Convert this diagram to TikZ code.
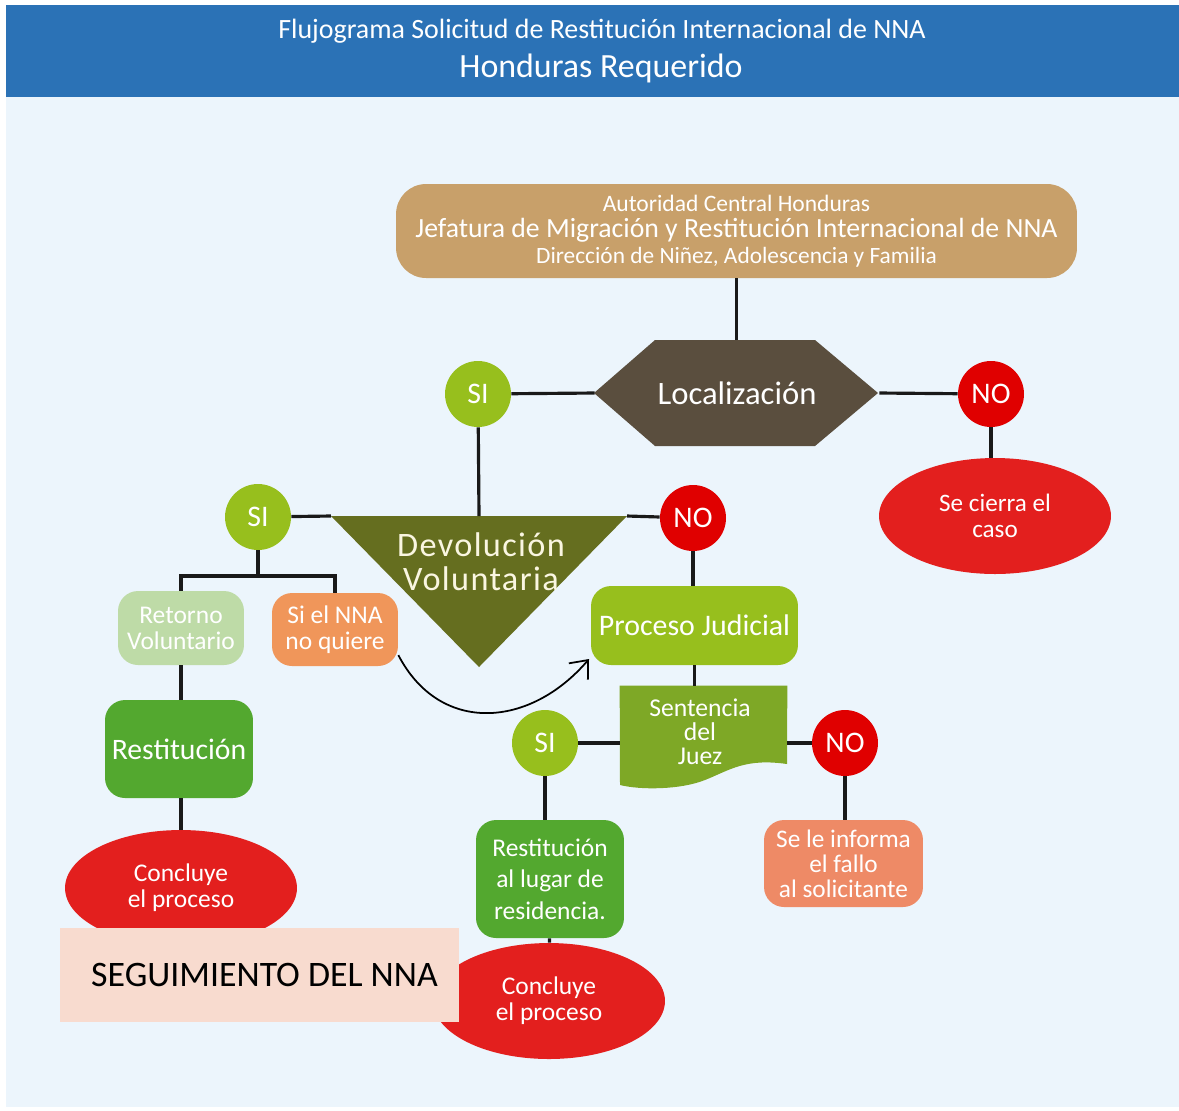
\documentclass[tikz,border=0pt]{standalone}
\usepackage{fontspec}
\setmainfont{Carlito}
\usetikzlibrary{shapes.geometric,arrows.meta,positioning}

\definecolor{azulTit}{RGB}{43,114,182}
\definecolor{fondo}{RGB}{236,245,252}
\definecolor{tan}{RGB}{200,160,106}
\definecolor{cafe}{RGB}{90,78,62}
\definecolor{verdeSi}{RGB}{151,191,29}
\definecolor{rojoNo}{RGB}{224,0,0}
\definecolor{rojoFin}{RGB}{227,31,30}
\definecolor{olivo}{RGB}{101,110,31}
\definecolor{verdeClaro}{RGB}{190,219,167}
\definecolor{naranja}{RGB}{240,150,90}
\definecolor{verdeCaja}{RGB}{83,168,47}
\definecolor{verdeDoc}{RGB}{126,168,38}
\definecolor{salmon}{RGB}{238,138,102}
\definecolor{rosa}{RGB}{248,219,207}
\definecolor{crema}{RGB}{250,246,225}

\begin{document}
\begin{tikzpicture}[x=0.02cm,y=-0.02cm,
  linea/.style={line width=1.8pt,draw=black!90},
  caja/.style={rounded corners=0.4cm,text=white,align=center,inner sep=0pt},
  si/.style={circle,fill=verdeSi,text=white,minimum size=1.32cm,inner sep=0pt,font=\fontsize{17}{17}\selectfont},
  no/.style={si,fill=rojoNo},
  fin/.style={ellipse,fill=rojoFin,text=white,align=center,minimum width=4.64cm,minimum height=2.32cm,inner sep=0pt,font=\fontsize{14.5}{14.8}\selectfont}]

\useasboundingbox (0,0) rectangle (1179,1110);
\fill[white] (0,0) rectangle (1179,1110);
\fill[fondo] (6,97) rectangle (1179,1107);
\fill[azulTit] (6,5) rectangle (1179,97);
\node[text=white,font=\fontsize{15.9}{16}\selectfont] (tit1) at (602,31) {Flujograma Solicitud de Restitución Internacional de NNA};
\node[text=white,font=\fontsize{19.3}{19}\selectfont] (tit2) at (601,68) {Honduras Requerido};

% autoridad central
\node[caja,fill=tan,rounded corners=0.6cm,minimum width=13.62cm,minimum height=1.88cm,font=\fontsize{13}{13.6}\selectfont] (ac) at (736.5,231)
  {{\fontsize{13.4}{13.6}\selectfont Autoridad Central Honduras}\\[1.2pt]
   {\fontsize{15.8}{13.6}\selectfont Jefatura de Migración y Restitución Internacional de NNA}\\[1.2pt]
   {\fontsize{13.3}{13.6}\selectfont Dirección de Niñez, Adolescencia y Familia}};

% localizacion
\fill[cafe] (594,393) -- (655,340) -- (815,340) -- (878,393) -- (815,446) -- (655,446) -- cycle;
\node[minimum width=5.68cm,minimum height=2.12cm,inner sep=0pt,text=white,font=\fontsize{18.6}{18}\selectfont] (loc) at (737,393) {Localización};
\node[si] (siA) at (478,394) {SI};
\node[no] (noA) at (991,394) {NO};
\node[fin,font=\fontsize{14.3}{14.8}\selectfont] (cierra) at (995,516) {Se cierra el\\caso};

% devolucion voluntaria
\fill[olivo] (331,516) -- (627,516) -- (479,667) -- cycle;
\coordinate (dvI) at (331,516);
\coordinate (dvD) at (627,516);
\coordinate (dvS) at (479,516);
\node[text=crema,align=center,font=\fontsize{19.5}{19.5}\selectfont\addfontfeatures{LetterSpace=4}] (dev) at (481,562) {Devolución\\Voluntaria};
\node[si] (siB) at (258,517) {SI};
\node[no] (noB) at (693,518) {NO};

% rama voluntaria
\coordinate (bif) at (258,576);
\node[caja,fill=verdeClaro,minimum width=2.52cm,minimum height=1.48cm,font=\fontsize{14.5}{14.8}\selectfont] (ret) at (181,628) {Retorno\\Voluntario};
\node[caja,fill=naranja,minimum width=2.52cm,minimum height=1.46cm,font=\fontsize{14.5}{14.8}\selectfont] (noq) at (335,629.5) {Si el NNA\\no quiere};
\node[caja,fill=verdeCaja,minimum width=2.96cm,minimum height=1.96cm,font=\fontsize{16.9}{17}\selectfont] (rest) at (179,749) {Restitución};
\node[fin] (finA) at (181,888) {Concluye\\el proceso};

% rama judicial
\node[caja,fill=verdeSi,minimum width=4.14cm,minimum height=1.58cm,font=\fontsize{17}{17}\selectfont] (pj) at (694.5,625.5) {Proceso Judicial};
\node[minimum width=3.34cm,minimum height=1.84cm,inner sep=0pt] (sen) at (703.5,732) {};
\fill[verdeDoc] (sen.north west) -- (sen.north east) -- (787,764) .. controls (745,758) and (730,770) .. (705,780)
  .. controls (680,790) and (640,790) .. (620,785) -- cycle;
\node[text=white,align=center,font=\fontsize{14.6}{13.6}\selectfont] (sentxt) at (700,732) {Sentencia\\del\\Juez};
\node[si] (siC) at (545,743) {SI};
\node[no] (noD) at (845,743) {NO};
\node[caja,fill=verdeCaja,minimum width=2.96cm,minimum height=2.36cm,font=\fontsize{14.5}{18}\selectfont] (resid) at (550,879) {Restitución\\al lugar de\\residencia.};
\node[fin] (finC) at (549,1001) {Concluye\\el proceso};
\node[caja,fill=salmon,minimum width=3.18cm,minimum height=1.74cm,font=\fontsize{14.4}{14.2}\selectfont] (inf) at (843.5,863.5) {Se le informa\\el fallo\\al solicitante};

% seguimiento
\node[fill=rosa,minimum width=7.98cm,minimum height=1.88cm,inner sep=0pt,font=\fontsize{20.4}{20}\selectfont] (seg) at (259.5,975) {\hspace{0.2cm}SEGUIMIENTO DEL NNA};

% conectores
\draw[linea] (ac) -- (ac |- loc.north);
\draw[linea] (siA) -- (loc.west);
\draw[linea] (loc.east) -- (noA);
\draw[linea] (noA) -- (noA |- cierra.north);
\draw[linea] (siA) -- (dvS);
\draw[linea] (siB) -- (dvI);
\draw[linea] (dvD) -- (noB);
\draw[linea] (siB) -- (bif);
\draw[linea] (ret.north) |- (bif) -| (noq.north);
\draw[linea] (ret) -- (ret |- rest.north);
\draw[linea] (finA) -- (finA |- rest.south);
\draw[linea] (noB) -- (noB |- pj.north);
\draw[linea] (pj) -- (pj |- sen.north);
\draw[linea] (siC) -- (siC -| sen.west);
\draw[linea] (sen.east |- noD) -- (noD);
\draw[linea] (siC) -- (siC |- resid.north);
\draw[linea] (resid) -- (finC);
\draw[linea] (noD) -- (noD |- inf.north);
\draw[line width=1pt,-{Straight Barb[length=3mm,width=5mm]}] (noq.-22) .. controls (440,735) and (530,728) .. (589,659);
\end{tikzpicture}
\end{document}
